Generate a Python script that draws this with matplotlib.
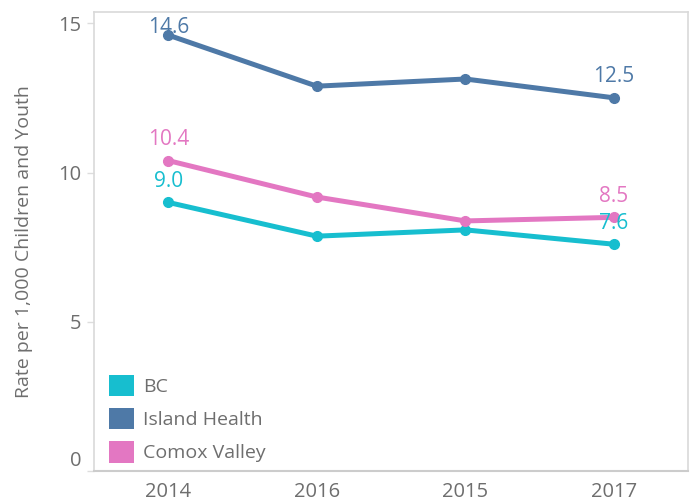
import matplotlib
matplotlib.use("Agg")
import matplotlib.pyplot as plt
from matplotlib.patches import Patch
import numpy as np

plt.rcParams['font.family'] = ['Open Sans', 'DejaVu Sans']

years = ['2014', '2016', '2015', '2017']
bc = [9.0, 7.87, 8.08, 7.6]
island = [14.6, 12.89, 13.13, 12.5]
comox = [10.4, 9.18, 8.38, 8.5]

series = [
    ('BC', bc, '#17BECF'),
    ('Island Health', island, '#4E79A7'),
    ('Comox Valley', comox, '#E377C2'),
]

fig = plt.figure(figsize=(6.91, 5.03), dpi=100)
ax = fig.add_axes([0.136, 0.063, 0.86, 0.913])

ymax = 15.37
x = np.arange(len(years))
for name, vals, col in series:
    ax.plot(x, vals, color=col, lw=3.6, marker='o', ms=7, solid_capstyle='round')

# value labels on first and last points, kept inside the plot area
for name, vals, col in series:
    for i in [0, len(vals) - 1]:
        ty = min(vals[i] + 0.7, ymax - 0.5)
        ax.text(x[i], ty, '%.1f' % vals[i], ha='center', va='center',
                color=col, fontsize=15)

ax.set_xlim(-0.5, 3.5)
ax.set_ylim(0, ymax)
ax.set_xticks(x)
ax.set_xticklabels(years)
ax.set_yticks([0, 5, 10, 15])
ax.tick_params(axis='x', length=0, labelsize=14.5, colors='#6e6e6e', pad=8)
ax.tick_params(axis='y', length=5, width=1, color='#dddddd', labelsize=14.5,
               labelcolor='#6e6e6e', pad=4)
for lab in ax.get_yticklabels():
    if lab.get_text() == '0':
        lab.set_va('bottom')

ax.set_ylabel('Rate per 1,000 Children and Youth', fontsize=14, color='#6e6e6e', labelpad=18)

for s in ['top', 'right', 'left']:
    ax.spines[s].set_color('#d9d9d9')
    ax.spines[s].set_linewidth(1.2)
ax.spines['bottom'].set_color('#cccccc')
ax.spines['bottom'].set_linewidth(1.5)

handles = [Patch(facecolor=col, edgecolor='none', label=name) for name, vals, col in series]
leg = ax.legend(handles=handles, loc='lower left', frameon=False, fontsize=14,
                handlelength=1.3, handleheight=1.3, handletextpad=0.45,
                labelspacing=0.62, borderaxespad=0.05, bbox_to_anchor=(0.01, 0.0))
for t in leg.get_texts():
    t.set_color('#6e6e6e')

fig.savefig('out.png', dpi=100)
